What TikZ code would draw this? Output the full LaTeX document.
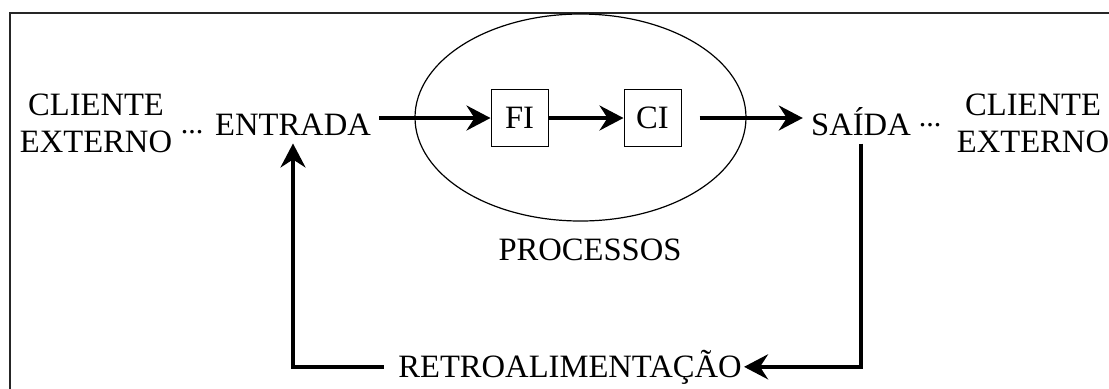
\documentclass[tikz,border=0pt]{standalone}
\usepackage{fontspec}
\setmainfont{Liberation Serif}
\usetikzlibrary{positioning,shapes.geometric,arrows.meta}

\begin{document}
\begin{tikzpicture}[x=0.5pt,y=-0.5pt,
    txt/.style={inner sep=4pt, font=\fontsize{16.3}{18.5}\selectfont},
    caixa/.style={rectangle, draw, line width=0.5pt, minimum size=28.5pt, inner sep=0pt, font=\fontsize{16.3}{18.5}\selectfont},
    pontos/.style={inner sep=0pt, anchor=base, font=\fontsize{15}{18}\selectfont},
    seta/.style={line width=1.8pt, -{Stealth[length=12pt,width=12.5pt,inset=4pt]}}]

    \useasboundingbox (0,0) rectangle (1109,388);
    \clip (0,0) rectangle (1109,388);
    \draw[line width=1pt, black!85] (9.5,12.5) rectangle (1200,450);

    \node(proc)[ellipse, draw, line width=0.6pt, minimum width=165.5pt, minimum height=103.5pt] at (580.5,117.5) {};
    \node(fi)[caixa] at (519.5,118) {FI};
    \node(ci)[caixa, right=37.5pt of fi] {CI};

    \node(entrada)[txt, anchor=base] at (293,135) {ENTRADA};
    \node(saida)[txt, anchor=base] at (861,135) {SAÍDA};
    \node(cliente-1)[txt, align=center] at (96,123) {CLIENTE\\EXTERNO};
    \node(cliente-2)[txt, align=center] at (1033,123) {CLIENTE\\EXTERNO};
    \node(pontos-1)[pontos] at (192,133) {...};
    \node(pontos-2)[pontos] at (930,126) {...};

    \node(rotulo)[txt, anchor=base] at (590,260) {PROCESSOS};
    \node(retro)[txt, inner sep=1pt, anchor=base] at (570,377) {RETROALIMENTAÇÃO};


    \draw[seta] (entrada.east |- fi.west) -- (fi.west);
    \draw[seta] (fi) -- (ci);
    \draw[seta, shorten <=9pt] (ci.east) -- (saida.west |- ci.east);
    \draw[seta] (saida.south) |- (retro.east);
    \draw[seta] ([xshift=-6pt]retro.west) -| (entrada.south);
  \end{tikzpicture}
\end{document}
